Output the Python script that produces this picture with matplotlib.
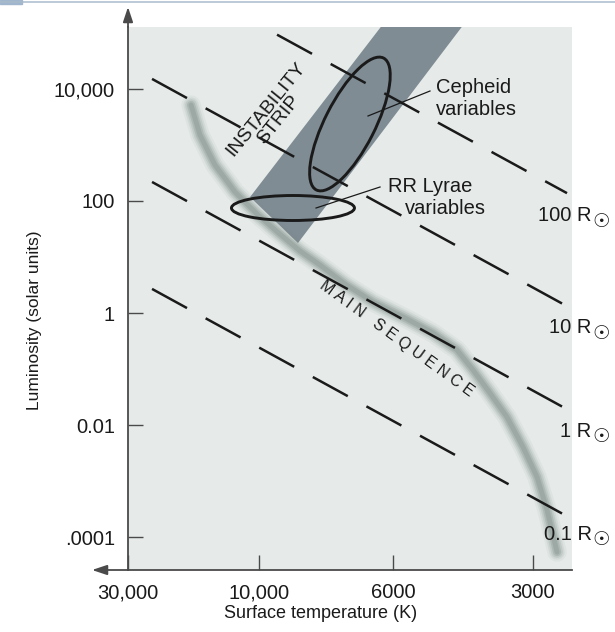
"""Schematic H-R diagram: instability strip, main sequence and lines of constant radius."""

import matplotlib
matplotlib.use("Agg")
import matplotlib.pyplot as plt
import matplotlib.transforms as mtransforms
import numpy as np
from matplotlib.lines import Line2D
from matplotlib.patches import Ellipse, Polygon, Rectangle

# --- data (x = position along the schematic temperature axis, y = log10 L) ---
temp_tick_pos = [0.0, 0.97, 1.963, 3.0]
temp_tick_labels = ["30,000", "10,000", "6000", "3000"]
lum_ticks = [1e4, 1e2, 1.0, 1e-2, 1e-4]
lum_tick_labels = ["10,000", "100", "1", "0.01", ".0001"]

radius_labels = ["100", "10", "1", "0.1"]
radius_x0 = [1.104, 0.178, 0.178, 0.178]
radius_x1 = [3.252, 3.215, 3.215, 3.215]
radius_logL0 = [4.97, 4.18, 2.34, 0.43]
radius_logL1 = [2.14, 0.17, -1.67, -3.58]
radius_label_logL = [1.64, -0.36, -2.21, -4.05]

ms_x = [0.467, 0.533, 0.644, 0.793, 0.963, 1.133, 1.274, 1.422, 1.607, 1.815,
        2.067, 2.259, 2.437, 2.556, 2.681, 2.807, 2.926, 3.030, 3.104, 3.178]
ms_logL = [3.714, 3.179, 2.643, 2.161, 1.75, 1.393, 1.107, 0.857, 0.518, 0.196,
           -0.107, -0.357, -0.661, -1.018, -1.429, -1.857, -2.393, -2.929, -3.518, -4.268]

strip_x = [0.904, 1.259, 2.533, 1.934]
strip_logL = [2.071, 1.25, 5.3, 5.3]

# ellipse centres (x, log L) and size in inches
cepheid_center = (1.644, 3.375)
cepheid_size = (1.48, 0.50, 63)
rrlyrae_center = (1.222, 1.875)
rrlyrae_size = (1.23, 0.25, 0)

XLIM = (0.0, 3.289)
LOGL_LIM = (-4.589, 5.107)

BG = "#e6ebe9"
STRIP = "#7f8c94"
INK = "#1a1a1a"
AXIS = "#4a4a4a"

plt.rcParams.update({
    "font.family": ["Liberation Sans", "DejaVu Sans"],
    "lines.scale_dashes": False,
})

fig = plt.figure(figsize=(6.15, 6.32), dpi=100)
ax = fig.add_axes([128 / 615, 1 - 570 / 632, 444 / 615, 543 / 632])
ax.set_facecolor(BG)
ax.set_yscale("log")
ax.set_xlim(*XLIM)
ax.set_ylim(10 ** LOGL_LIM[0], 10 ** LOGL_LIM[1])

# instability strip
ax.add_patch(Polygon(np.column_stack([strip_x, 10 ** np.array(strip_logL)]),
                     closed=True, facecolor=STRIP, edgecolor="none", zorder=1))

# main sequence as a soft blurred band
ms_L = 10 ** np.array(ms_logL)
for lw, alpha in [(14, 0.08), (11, 0.12), (8.5, 0.18), (6, 0.26), (3.5, 0.32)]:
    ax.plot(ms_x, ms_L, color="#7a8a84", lw=lw, alpha=alpha,
            solid_capstyle="round", solid_joinstyle="round", zorder=2)

# lines of constant radius
for x0, x1, l0, l1 in zip(radius_x0, radius_x1, radius_logL0, radius_logL1):
    ax.plot([x0, x1], [10 ** l0, 10 ** l1], color=INK, lw=1.8,
            linestyle=(0, (28.7, 15.3)), dash_capstyle="butt", zorder=3)

for lab, ly in zip(radius_labels, radius_label_logL):
    ax.text(3.435, 10 ** ly, f"{lab} R", ha="right", va="baseline",
            fontsize=14.5, color=INK, clip_on=False)
    ax.text(3.505, 10 ** ly, "\u2609", ha="center", va="center",
            fontsize=14, color=INK, family="DejaVu Sans", clip_on=False)


def add_ellipse(center, size):
    w, h, ang = size
    tr = fig.dpi_scale_trans + mtransforms.ScaledTranslation(
        center[0], 10 ** center[1], ax.transData)
    ax.add_patch(Ellipse((0, 0), w, h, angle=ang, transform=tr, fill=False,
                         edgecolor=INK, lw=2.1, zorder=4))


add_ellipse(cepheid_center, cepheid_size)
add_ellipse(rrlyrae_center, rrlyrae_size)

# leader lines and labels
ax.plot([1.778, 2.237], [10 ** 3.518, 10 ** 3.964], color=INK, lw=0.9, zorder=4)
ax.plot([1.393, 1.867], [10 ** 1.875, 10 ** 2.25], color=INK, lw=0.9, zorder=4)
ax.text(2.281, 10 ** 4.018, "Cepheid", fontsize=14.5, color=INK, va="center", ha="left")
ax.text(2.281, 10 ** 3.625, "variables", fontsize=14.5, color=INK, va="center", ha="left")
ax.text(1.926, 10 ** 2.25, "RR Lyrae", fontsize=14.5, color=INK, va="center", ha="left")
ax.text(2.052, 10 ** 1.875, "variables", fontsize=14.5, color=INK, va="center", ha="left")

ax.text(1.067, 10 ** 3.536, "INSTABILITY\nSTRIP", rotation=51, fontsize=14,
        color=INK, ha="center", va="center", multialignment="center",
        linespacing=0.95, rotation_mode="anchor", zorder=5)
ax.text(1.99, 10 ** -0.46, "M A I N   S E Q U E N C E", rotation=-36, fontsize=11.5,
        color=INK, ha="center", va="center", rotation_mode="anchor", zorder=5)

# axes styling
for side in ("top", "right"):
    ax.spines[side].set_visible(False)
for side in ("left", "bottom"):
    ax.spines[side].set_color(AXIS)
    ax.spines[side].set_linewidth(1.3)

ax.set_xticks(temp_tick_pos)
ax.set_xticklabels(temp_tick_labels)
ax.set_yticks(lum_ticks)
ax.set_yticklabels(lum_tick_labels)
ax.minorticks_off()
ax.tick_params(direction="in", length=10.8, width=1.0, color=AXIS,
               labelsize=14.5, labelcolor=INK, pad=9.4)

ax.set_xlabel("Surface temperature (K)", fontsize=13, color=INK, va="center")
ax.xaxis.set_label_coords(0.4347, -0.081)
ax.set_ylabel("Luminosity (solar units)", fontsize=12.5, color=INK, va="center")
ax.yaxis.set_label_coords(-0.2095, 0.4604)

# axis arrows
arrow = dict(arrowstyle="-|>,head_length=0.9,head_width=0.3", color=AXIS,
             lw=1.3, shrinkA=0, shrinkB=0, mutation_scale=10)
ax.annotate("", xy=(0, 1 + 20 / 543), xytext=(0, 1), xycoords="axes fraction",
            arrowprops=arrow, annotation_clip=False)
ax.annotate("", xy=(-36 / 444, 0), xytext=(0, 0), xycoords="axes fraction",
            arrowprops=arrow, annotation_clip=False)

# page rule at the very top
fig.add_artist(Line2D([0, 1], [1 - 1.5 / 632, 1 - 1.5 / 632], color="#a9bacb",
                      lw=1.1, transform=fig.transFigure))
fig.add_artist(Rectangle((0, 1 - 4 / 632), 22 / 615, 4 / 632, color="#a0b6cf",
                         transform=fig.transFigure))

fig.savefig("out.png", dpi=100)
